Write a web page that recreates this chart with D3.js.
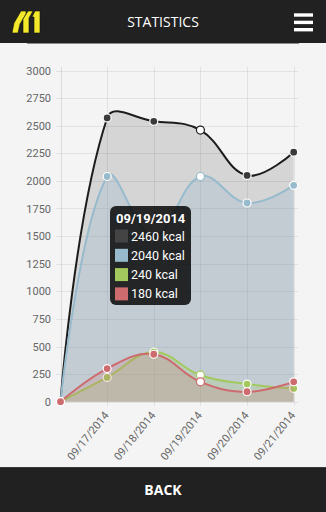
<!DOCTYPE html>
<html><head><meta charset="utf-8">
<script src="https://cdn.jsdelivr.net/npm/d3@7"></script>
<style>
html,body{margin:0;padding:0;background:#f4f4f4;overflow:hidden}
svg{display:block}
</style></head><body>
<svg id="c" width="326" height="512"></svg>
<script>
// Daily calorie statistics
const dates = ["", "09/17/2014", "09/18/2014", "09/19/2014", "09/20/2014", "09/21/2014"];
const totalKcal = [0, 2570, 2540, 2460, 2050, 2260];
const activeKcal = [0, 2040, 1500, 2040, 1800, 1960];
const greenKcal = [0, 220, 450, 240, 160, 120];
const redKcal = [0, 300, 430, 180, 90, 180];
const yTicks = [0, 250, 500, 750, 1000, 1250, 1500, 1750, 2000, 2250, 2500, 2750, 3000];
const selectedIndex = 3;

const series = [
  {values: totalKcal,  stroke: "#1e1e1e", point: "#3a3a3a", fill: "rgba(0,0,0,0.125)"},
  {values: activeKcal, stroke: "#97bbcd", point: "#97bbcd", fill: "rgba(151,187,205,0.3)"},
  {values: greenKcal,  stroke: "#a3c95e", point: "#a3c95e", fill: "rgba(160,205,90,0.2)"},
  {values: redKcal,    stroke: "#cd6b6e", point: "#cd6b6e", fill: "rgba(205,105,110,0.2)"}
];

const W = 326, H = 512;
const svg = d3.select("#c");
svg.append("rect").attr("width", W).attr("height", H).attr("fill", "#f4f4f4");

const x = d3.scalePoint().domain(d3.range(dates.length)).range([60.5, 293.7]);
const y = d3.scaleLinear().domain([0, 3000]).range([401.7, 70.5]);

const g = svg.append("g");

// horizontal grid + y axis labels
const yAxis = d3.axisLeft(y).tickValues(yTicks).tickSize(0).tickPadding(0).tickFormat(d3.format("d"));
const ya = g.append("g").attr("transform", "translate(51,0)").call(yAxis);
ya.select(".domain").remove();
ya.selectAll("text").attr("font-family", "Roboto, sans-serif").attr("font-size", 11).attr("fill", "#666").attr("x", 0);

g.append("g").selectAll("line").data(yTicks).join("line")
  .attr("x1", 56).attr("x2", 298)
  .attr("y1", d => Math.round(y(d)) + 0.5).attr("y2", d => Math.round(y(d)) + 0.5)
  .attr("stroke", "rgba(0,0,0,0.07)").attr("stroke-width", 1);

// vertical grid
g.append("g").selectAll("line").data(d3.range(dates.length)).join("line")
  .attr("x1", d => Math.round(x(d)) + 0.5).attr("x2", d => Math.round(x(d)) + 0.5)
  .attr("y1", 67).attr("y2", 406)
  .attr("stroke", (d, i) => i === 0 ? "rgba(0,0,0,0.1)" : "rgba(0,0,0,0.07)").attr("stroke-width", 1);

// x labels, rotated
g.append("g").selectAll("text").data(dates).join("text")
  .attr("transform", (d, i) => `translate(${x(i)},${y(0) + 12}) rotate(-51)`)
  .attr("text-anchor", "end").attr("dominant-baseline", "middle")
  .attr("font-family", "Roboto, sans-serif").attr("font-size", 11).attr("fill", "#666")
  .text(d => d);

// spline with distance-weighted control points, handles capped to the plot area
function splinePath(pts, tension, top, bottom, closeTo) {
  const cps = pts.map((p, i) => {
    const prev = pts[Math.max(0, i - 1)], next = pts[Math.min(pts.length - 1, i + 1)];
    const t = (i > 0 && i < pts.length - 1) ? tension : 0;
    const d01 = Math.hypot(p[0] - prev[0], p[1] - prev[1]);
    const d12 = Math.hypot(next[0] - p[0], next[1] - p[1]);
    const s = d01 + d12 || 1;
    const fa = t * d01 / s, fb = t * d12 / s;
    const cap = v => Math.min(bottom, Math.max(top, v));
    return {
      inner: [p[0] - fa * (next[0] - prev[0]), cap(p[1] - fa * (next[1] - prev[1]))],
      outer: [p[0] + fb * (next[0] - prev[0]), cap(p[1] + fb * (next[1] - prev[1]))]
    };
  });
  const path = d3.path();
  path.moveTo(pts[0][0], pts[0][1]);
  for (let i = 1; i < pts.length; i++) {
    const a = cps[i - 1].outer, b = cps[i].inner;
    path.bezierCurveTo(a[0], a[1], b[0], b[1], pts[i][0], pts[i][1]);
  }
  if (closeTo !== undefined) {
    path.lineTo(pts[pts.length - 1][0], closeTo);
    path.lineTo(pts[0][0], closeTo);
    path.closePath();
  }
  return path.toString();
}

const plot = svg.append("g");
series.forEach(s => {
  const pts = s.values.map((v, i) => [x(i), y(v)]);
  plot.append("path").attr("d", splinePath(pts, 0.4, y(3000), y(0)))
    .attr("fill", "none").attr("stroke", s.stroke).attr("stroke-width", 2);
  plot.append("path").attr("d", splinePath(pts, 0.4, y(3000), y(0), y(0)))
    .attr("fill", s.fill).attr("stroke", "none");
  plot.append("g").selectAll("circle").data(s.values).join("circle")
    .attr("cx", (v, i) => x(i)).attr("cy", v => y(v)).attr("r", 4)
    .attr("fill", (v, i) => i === selectedIndex ? "#fff" : s.point)
    .attr("stroke", (v, i) => i === selectedIndex ? s.stroke : "#fff")
    .attr("stroke-width", 1.2);
});

// tooltip for the selected day
const tip = svg.append("g").attr("transform", "translate(110,206)");
tip.append("rect").attr("width", 81).attr("height", 99).attr("rx", 6)
  .attr("fill", "rgba(0,0,0,0.82)");
tip.append("text").attr("x", 6).attr("y", 16.5)
  .attr("font-family", "Roboto, sans-serif").attr("font-weight", "bold").attr("font-size", 13)
  .attr("fill", "#fff").text(dates[selectedIndex]);
const rows = tip.append("g").selectAll("g").data(series).join("g")
  .attr("transform", (d, i) => `translate(0,${30 + i * 19.3})`);
rows.append("rect").attr("x", 5).attr("y", -6.5).attr("width", 13).attr("height", 13)
  .attr("fill", d => d === series[0] ? "#444" : d.point);
rows.append("text").attr("x", 21).attr("y", 4.5)
  .attr("font-family", "Roboto, sans-serif").attr("font-size", 12.5).attr("fill", "#fff")
  .text(d => `${d.values[selectedIndex]} kcal`);

// header bar
const header = svg.append("g");
header.append("rect").attr("width", W).attr("height", 43).attr("fill", "#212121");
header.append("line").attr("x1", 27).attr("x2", 299).attr("y1", 43.5).attr("y2", 43.5)
  .attr("stroke", "#8a8a8a").attr("stroke-width", 1);
header.append("text").attr("x", 163).attr("y", 27).attr("text-anchor", "middle")
  .attr("font-family", "'Open Sans', sans-serif").attr("font-size", 14).attr("fill", "#fff")
  .text("STATISTICS");
// menu icon
header.append("g").selectAll("rect").data([13.3, 20.7, 28]).join("rect")
  .attr("x", 294).attr("y", d => d).attr("width", 19).attr("height", 3.4)
  .attr("fill", "#fff");
// logo
const logo = header.append("g").attr("fill", "#f3e82a").attr("stroke", "#111").attr("stroke-width", 0.6);
[
  [[12, 33], [18, 33], [20, 24], [26, 14], [26, 11], [21, 11], [14, 23]],
  [[23, 33], [29, 33], [29, 18], [33, 11], [28, 11], [23, 19]],
  [[34, 33], [40, 33], [40, 11], [35, 11], [32, 17], [34, 17]]
].forEach(p => logo.append("polygon").attr("points", p.map(q => q.join(",")).join(" ")));

// footer bar
const footer = svg.append("g");
footer.append("rect").attr("y", 467).attr("width", W).attr("height", H - 467).attr("fill", "#212121");
footer.append("line").attr("x1", 0).attr("x2", W).attr("y1", 467.5).attr("y2", 467.5).attr("stroke", "#3a3a3a");
footer.append("text").attr("x", 163).attr("y", 495).attr("text-anchor", "middle")
  .attr("font-family", "'Open Sans', sans-serif").attr("font-weight", "bold").attr("font-size", 14)
  .attr("fill", "#fff").text("BACK");
</script>
</body></html>
